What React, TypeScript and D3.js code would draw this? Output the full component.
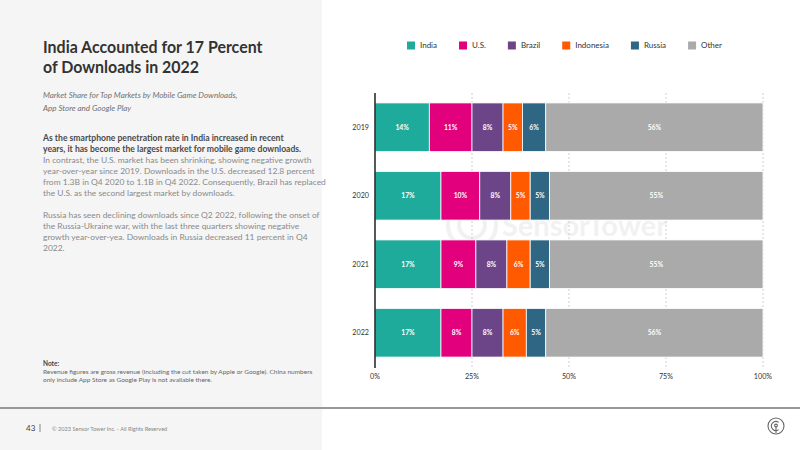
import * as d3 from 'd3';
import { useEffect, useRef } from 'react';

// market share of mobile game downloads, percent per year
const years = ['2019', '2020', '2021', '2022'];
const markets = ['India', 'U.S.', 'Brazil', 'Indonesia', 'Russia', 'Other'];
const india = [14, 17, 17, 17];
const us = [11, 10, 9, 8];
const brazil = [8, 8, 8, 8];
const indonesia = [5, 5, 6, 6];
const russia = [6, 5, 5, 5];
const other = [56, 55, 55, 56];
const xTicks = [0, 25, 50, 75, 100];

const colors = ['#1fab9b', '#e2007c', '#6c4589', '#ff5a00', '#2e6684', '#aaaaaa'];

const title = ['India Accounted for 17 Percent', 'of Downloads in 2022'];
const subtitle = ['Market Share for Top Markets by Mobile Game Downloads,', 'App Store and Google Play'];
const boldLines = [
    'As the smartphone penetration rate in India increased in recent',
    'years, it has become the largest market for mobile game downloads.',
];
const bodyLines = [
    'In contrast, the U.S. market has been shrinking, showing negative growth',
    'year-over-year since 2019. Downloads in the U.S. decreased 12.8 percent',
    'from 1.3B in Q4 2020 to 1.1B in Q4 2022. Consequently, Brazil has replaced',
    'the U.S. as the second largest market by downloads.',
    '',
    'Russia has seen declining downloads since Q2 2022, following the onset of',
    'the Russia-Ukraine war, with the last three quarters showing negative',
    'growth year-over-yea. Downloads in Russia decreased 11 percent in Q4',
    '2022.',
];
const noteLines = [
    'Revenue figures are gross revenue (including the cut taken by Apple or Google). China numbers',
    'only include App Store as Google Play is not available there.',
];

const width = 800;
const height = 450;
const font = 'Lato, "Noto Sans", sans-serif';

const series = [india, us, brazil, indonesia, russia, other];

const rows = years.map((year, i) => {
    const row: any = { year };
    markets.forEach((m, j) => (row[m] = series[j][i]));
    return row;
});

const xScale = d3.scaleLinear().domain([0, 100]).range([375, 763]);
const yScale = d3.scaleBand().domain(years).range([93, 367]).paddingInner(0.29).paddingOuter(0.145);

const App = () => {
    const ref = useRef<SVGSVGElement | null>(null);

    useEffect(() => {
        const svg = d3.select(ref.current);
        svg.selectAll('*').remove();

        // left text panel
        svg.append('rect').attr('width', 322).attr('height', height).attr('fill', '#f5f5f5');

        const left = svg.append('g').attr('font-family', font);
        left.append('g')
            .attr('transform', 'translate(43,0) scale(0.985,1)')
            .selectAll('.title')
            .data(title)
            .enter()
            .append('text')
            .attr('x', 0)
            .attr('y', (d, i) => 53.5 + i * 19.6)
            .attr('font-size', 16.2)
            .attr('font-weight', 700)
            .attr('fill', '#333')
            .text(d => d);

        left.selectAll('.sub')
            .data(subtitle)
            .enter()
            .append('text')
            .attr('x', 43)
            .attr('y', (d, i) => 98 + i * 13)
            .attr('font-size', 8)
            .attr('font-style', 'italic')
            .attr('fill', '#707070')
            .text(d => d);

        left.selectAll('.bold')
            .data(boldLines)
            .enter()
            .append('text')
            .attr('x', 43)
            .attr('y', (d, i) => 141 + i * 10.8)
            .attr('font-size', 8.6)
            .attr('font-weight', 700)
            .attr('fill', '#4a4a4a')
            .text(d => d);

        left.selectAll('.body')
            .data(bodyLines)
            .enter()
            .append('text')
            .attr('x', 43)
            .attr('y', (d, i) => 162.5 + i * 11)
            .attr('font-size', 8.45)
            .attr('fill', '#8a8a8a')
            .text(d => d);

        left.append('text')
            .attr('x', 43).attr('y', 366)
            .attr('font-size', 6.5).attr('font-weight', 700).attr('fill', '#444')
            .text('Note:');
        left.selectAll('.note')
            .data(noteLines)
            .enter()
            .append('text')
            .attr('x', 43)
            .attr('y', (d, i) => 374 + i * 8)
            .attr('font-size', 6.5)
            .attr('fill', '#666')
            .text(d => d);

        // footer
        svg.append('line')
            .attr('x1', 0).attr('x2', width).attr('y1', 408).attr('y2', 408)
            .attr('stroke', '#999').attr('stroke-width', 2);
        svg.append('text')
            .attr('x', 26).attr('y', 431).attr('font-family', font)
            .attr('font-size', 8).attr('fill', '#444').text('43');
        svg.append('line')
            .attr('x1', 40).attr('x2', 40).attr('y1', 424).attr('y2', 432)
            .attr('stroke', '#888').attr('stroke-width', 1);
        svg.append('text')
            .attr('x', 52).attr('y', 430.5).attr('font-family', font)
            .attr('font-size', 5.6).attr('fill', '#888')
            .text('© 2023 Sensor Tower Inc. - All Rights Reserved');

        const icon = svg.append('g').attr('transform', 'translate(776,426)')
            .attr('fill', 'none').attr('stroke', '#666').attr('stroke-width', 1.1);
        icon.append('circle').attr('r', 8);
        icon.append('path').attr('d', d3.arc()({ innerRadius: 4.5, outerRadius: 4.5, startAngle: Math.PI * 0.8, endAngle: Math.PI * 2.2 }) as string);
        icon.append('circle').attr('r', 1.4).attr('cy', -0.5);
        icon.append('line').attr('y1', 1).attr('y2', 7);

        // watermark behind the bars
        const wm = svg.append('g').attr('opacity', 0.05);
        wm.append('circle').attr('cx', 472).attr('cy', 225).attr('r', 24)
            .attr('fill', 'none').attr('stroke', '#000').attr('stroke-width', 4);
        wm.append('circle').attr('cx', 472).attr('cy', 225).attr('r', 13)
            .attr('fill', 'none').attr('stroke', '#000').attr('stroke-width', 4);
        wm.append('text').attr('x', 502).attr('y', 236).attr('font-family', font)
            .attr('font-size', 29).attr('font-weight', 700).attr('fill', '#000')
            .text('SensorTower');

        // grid
        const chart = svg.append('g').attr('font-family', font);
        chart.selectAll('.grid')
            .data(xTicks.slice(1))
            .enter()
            .append('line')
            .attr('x1', d => xScale(d)).attr('x2', d => xScale(d))
            .attr('y1', 93).attr('y2', 368)
            .attr('stroke', '#cfcfcf').attr('stroke-width', 1).attr('stroke-dasharray', '2,2');

        // stacked bars
        const stacked = d3.stack().keys(markets)(rows);
        const layers = chart.selectAll('.layer')
            .data(stacked)
            .enter()
            .append('g')
            .attr('fill', (d, i) => colors[i]);

        layers.selectAll('rect')
            .data(d => d)
            .enter()
            .append('rect')
            .attr('x', d => xScale(d[0]))
            .attr('width', d => xScale(d[1]) - xScale(d[0]))
            .attr('y', d => yScale((d.data as any).year)!)
            .attr('height', yScale.bandwidth())
            .attr('stroke', '#fff')
            .attr('stroke-width', 0.8);

        layers.selectAll('text')
            .data(d => d)
            .enter()
            .append('text')
            .attr('x', d => (xScale(d[0]) + xScale(d[1])) / 2)
            .attr('y', d => yScale((d.data as any).year)! + yScale.bandwidth() / 2)
            .attr('dy', '0.35em')
            .attr('text-anchor', 'middle')
            .attr('font-size', 6.8)
            .attr('font-weight', 700)
            .attr('fill', '#fff')
            .text(d => `${d[1] - d[0]}%`);

        // axes
        chart.append('line')
            .attr('x1', 375).attr('x2', 375).attr('y1', 93).attr('y2', 368)
            .attr('stroke', '#111').attr('stroke-width', 1.4);

        chart.selectAll('.year')
            .data(years)
            .enter()
            .append('text')
            .attr('x', 369)
            .attr('y', d => yScale(d)! + yScale.bandwidth() / 2)
            .attr('dy', '0.35em')
            .attr('text-anchor', 'end')
            .attr('font-size', 7.2)
            .attr('fill', '#333')
            .text(d => d);

        chart.selectAll('.tick')
            .data(xTicks)
            .enter()
            .append('text')
            .attr('x', d => xScale(d))
            .attr('y', 379)
            .attr('text-anchor', 'middle')
            .attr('font-size', 7.2)
            .attr('fill', '#333')
            .text(d => `${d}%`);

        // legend, laid out by measured label widths
        const legend = svg.append('g').attr('font-family', font);
        let lx = 407;
        markets.forEach((m, i) => {
            legend.append('rect')
                .attr('x', lx).attr('y', 41.5).attr('width', 8).attr('height', 8)
                .attr('fill', colors[i]);
            const t = legend.append('text')
                .attr('x', lx + 13).attr('y', 45.5).attr('dy', '0.35em')
                .attr('font-size', 8).attr('fill', '#333')
                .text(m);
            lx += 13 + (t.node() as SVGTextElement).getComputedTextLength() + 22;
        });
    }, [ref]);

    return (
        <svg
            ref={ref}
            width={width}
            height={height}
            style={{ position: 'absolute', left: 0, top: 0, background: '#fff' }}
        />
    );
};

export default App;
